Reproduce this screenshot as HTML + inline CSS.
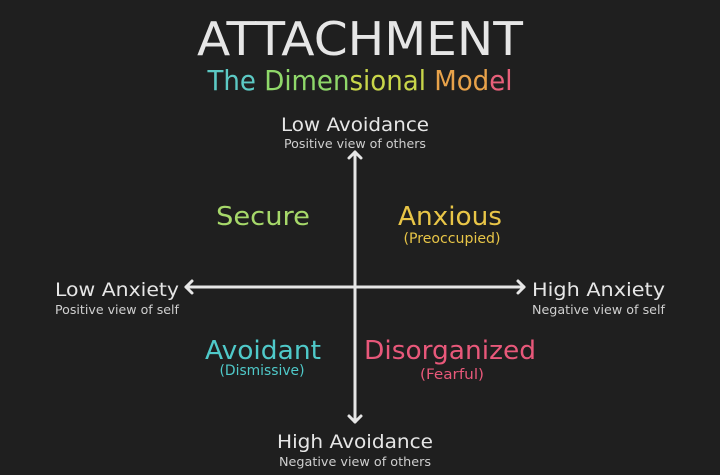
<!DOCTYPE html>
<html><head><meta charset="utf-8"><style>
html,body{margin:0;padding:0;background:#1f1f1f;}
svg{display:block;}
text{font-family:"DejaVu Sans","Liberation Sans",sans-serif;}
</style></head><body>
<svg width="720" height="475" viewBox="0 0 720 475" xmlns="http://www.w3.org/2000/svg">
<rect width="720" height="475" fill="#1f1f1f"/>
<text x="360" y="55" text-anchor="middle" font-size="46" fill="#e6e6e6" textLength="326" lengthAdjust="spacingAndGlyphs">ATTACHMENT</text>
<text x="360" y="90" text-anchor="middle" font-size="28" textLength="305" lengthAdjust="spacingAndGlyphs"><tspan fill="#5cc9c4">The </tspan><tspan fill="#8fd86a">Dimen</tspan><tspan fill="#c9d64a">sional </tspan><tspan fill="#e8a24a">Mod</tspan><tspan fill="#e8607a">el</tspan></text>
<text x="355" y="131" text-anchor="middle" font-size="19" fill="#e6e6e6" textLength="148" lengthAdjust="spacingAndGlyphs">Low Avoidance</text>
<text x="355" y="148" text-anchor="middle" font-size="12.5" fill="#cfcfcf" textLength="142" lengthAdjust="spacingAndGlyphs">Positive view of others</text>
<g stroke="#e6e6e6" stroke-width="3" fill="none" stroke-linecap="round" stroke-linejoin="round">
<line x1="355" y1="152" x2="355" y2="422"/>
<line x1="186" y1="287" x2="524" y2="287"/>
<polyline points="349,158 355,152 361,158"/>
<polyline points="349,416 355,422 361,416"/>
<polyline points="192,281 186,287 192,293"/>
<polyline points="518,281 524,287 518,293"/>
</g>
<text x="55" y="296" font-size="19" fill="#e6e6e6" textLength="124" lengthAdjust="spacingAndGlyphs">Low Anxiety</text>
<text x="55" y="314" font-size="12.5" fill="#cfcfcf" textLength="124" lengthAdjust="spacingAndGlyphs">Positive view of self</text>
<text x="532" y="296" font-size="19" fill="#e6e6e6" textLength="133" lengthAdjust="spacingAndGlyphs">High Anxiety</text>
<text x="532" y="314" font-size="12.5" fill="#cfcfcf" textLength="133" lengthAdjust="spacingAndGlyphs">Negative view of self</text>
<text x="355" y="448" text-anchor="middle" font-size="19" fill="#e6e6e6" textLength="156" lengthAdjust="spacingAndGlyphs">High Avoidance</text>
<text x="355" y="466" text-anchor="middle" font-size="12.5" fill="#cfcfcf" textLength="152" lengthAdjust="spacingAndGlyphs">Negative view of others</text>
<text x="263" y="225" text-anchor="middle" font-size="26" fill="#a6d86a" textLength="94" lengthAdjust="spacingAndGlyphs">Secure</text>
<text x="450" y="225" text-anchor="middle" font-size="26" fill="#e8c547" textLength="104" lengthAdjust="spacingAndGlyphs">Anxious</text>
<text x="452" y="243" text-anchor="middle" font-size="14" fill="#e8c547" textLength="97" lengthAdjust="spacingAndGlyphs">(Preoccupied)</text>
<text x="263" y="359" text-anchor="middle" font-size="26" fill="#4fc9c9" textLength="116" lengthAdjust="spacingAndGlyphs">Avoidant</text>
<text x="262" y="375" text-anchor="middle" font-size="14" fill="#4fc9c9" textLength="85" lengthAdjust="spacingAndGlyphs">(Dismissive)</text>
<text x="450" y="359" text-anchor="middle" font-size="26" fill="#e8587a" textLength="172" lengthAdjust="spacingAndGlyphs">Disorganized</text>
<text x="452" y="379" text-anchor="middle" font-size="14" fill="#e8587a" textLength="64" lengthAdjust="spacingAndGlyphs">(Fearful)</text>
</svg>
</body></html>
